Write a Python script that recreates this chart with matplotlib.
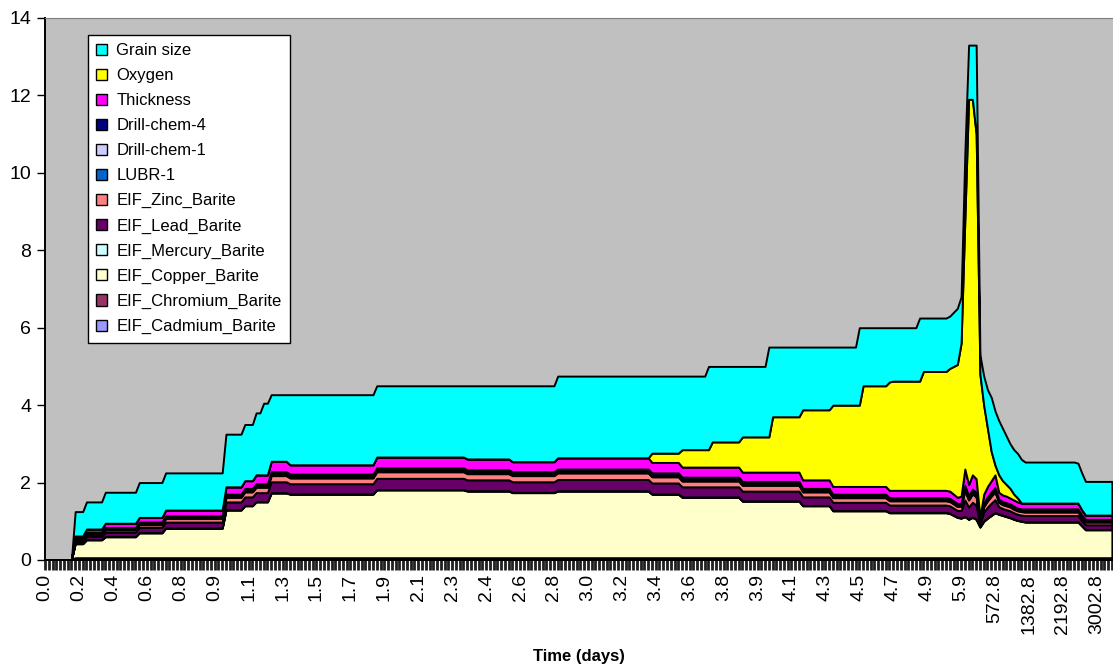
import numpy as np
import matplotlib
matplotlib.use('Agg')
import matplotlib.pyplot as plt
from matplotlib.patches import Patch

plt.rcParams['font.family'] = ['Liberation Sans', 'DejaVu Sans']

# ---------------- data ----------------
tick_labels = ['0.0', '0.2', '0.4', '0.6', '0.8', '0.9', '1.1', '1.3', '1.5', '1.7',
               '1.9', '2.1', '2.3', '2.4', '2.6', '2.8', '3.0', '3.2', '3.4', '3.6',
               '3.8', '3.9', '4.1', '4.3', '4.5', '4.7', '4.9', '5.9', '572.8',
               '1382.8', '2192.8', '3002.8']
n_categories = 284
label_every = 9

# number of consecutive time categories sharing the same values (55 segments)
seg_runs = [8, 3, 5, 9, 7, 16, 5, 3, 2, 2, 5, 23, 24, 12, 12, 25, 8, 7, 1, 8, 7, 1, 8, 8,
            7, 1, 7, 1, 7, 1, 7,
            1, 1, 1, 1, 1, 1, 1, 1, 1, 1, 1, 1, 1, 1, 1, 1, 1, 1, 1, 1,
            14, 1, 1, 8]

cadmium = [0.0] + [0.03] * 54
chromium = [0.0] + [0.03] * 54
copper = [0, .36, .46, .54, .64, .76, 1.23, 1.34, 1.44, 1.44, 1.67, 1.64, 1.75, 1.72, 1.68,
          1.72, 1.64, 1.56, 1.56, 1.56, 1.46, 1.46, 1.46, 1.34, 1.21, 1.21, 1.21, 1.16,
          1.16, 1.16, 1.16, 1.14, 1.09, 1.04, 1.02, 1.06, .99, 1.04, .99, .79, .94, 1.02,
          1.09, 1.16, 1.12, 1.09, 1.06, 1.03, .99, .96, .94, .92, .92, .82, .72]
mercury = [0.0] + [0.01] * 54
lead = [0, .05, .08, .11, .13, .15, .20, .22, .23, .23, .28, .26, .29, .28, .27, .29, .28,
        .26, .26, .26, .25, .25, .25, .22, .21, .21, .21, .19, .19, .19, .19, .19, .18, .17,
        .19, .42, .31, .38, .36, .07, .23, .28, .31, .33, .19, .17, .17, .17, .16, .15, .15,
        .16, .16, .13, .12]
zinc = [0, .03, .05, .06, .07, .09, .12, .13, .14, .14, .16, .15, .17, .16, .16, .17, .16,
        .15, .15, .15, .15, .15, .15, .13, .12, .12, .12, .11, .11, .11, .11, .11, .11, .10,
        .11, .25, .18, .22, .21, .04, .14, .16, .18, .20, .11, .10, .10, .10, .09, .09, .09,
        .09, .09, .08, .07]
lubr1 = [0.0] + [0.02] * 54
drill_chem1 = [0.0] + [0.02] * 54
drill_chem4 = [0, .01, .02, .02, .03, .03, .04, .05, .05, .05, .06, .06, .06, .06, .06, .06,
               .06, .06, .06, .06, .06, .06, .06, .05, .05, .05, .05, .04, .04, .04, .04, .04,
               .04, .04, .04, .09, .07, .08, .08, .02, .05, .06, .07, .07, .04, .04, .04, .04,
               .04, .03, .03, .04, .04, .03, .03]
thickness = [0, .06, .08, .11, .12, .15, .19, .20, .23, .23, .27, .24, .28, .28, .26, .29, .27,
             .26, .26, .26, .24, .24, .24, .22, .20, .20, .20, .19, .19, .19, .19, .19, .17,
             .16, .18, .42, .29, .37, .35, .07, .23, .27, .29, .33, .18, .17, .17, .15, .16,
             .16, .15, .15, .15, .13, .11]
oxygen = [0] * 16 + [.24, .45, .45, .65, .91, .91, 1.43, 1.81, 2.10, 2.10, 2.60, 2.80, 2.82,
                     2.82, 3.07, 3.17, 3.30, 3.43, 3.95, 6.45, 9.95, 9.70, 8.90, 3.70, 2.30,
                     1.50, .75, .25, .45, .37, .30, .25, .15, .10, 0, 0, 0, 0, 0]
grain_size = [0, .63, .70, .80, .90, .96, 1.36, 1.45, 1.60, 1.85, 1.72, 1.81, 1.84, 1.89,
              1.96, 2.11, 1.99, 1.90, 2.15, 1.95, 1.82, 2.32, 1.80, 1.62, 1.50, 2.00, 1.50,
              1.40, 1.38, 1.63, 1.38, 1.35, 1.40, 1.45, 1.20, 1.70, 1.40, 1.40, 2.30, 0.50,
              0.75, 1.00, 1.40, 1.40, 1.40, 1.35, 1.25, 1.15, 1.15, 1.15, 1.13, 1.06, 1.03,
              0.95, 0.87]

series_names = ['EIF_Cadmium_Barite', 'EIF_Chromium_Barite', 'EIF_Copper_Barite',
                'EIF_Mercury_Barite', 'EIF_Lead_Barite', 'EIF_Zinc_Barite', 'LUBR-1',
                'Drill-chem-1', 'Drill-chem-4', 'Thickness', 'Oxygen', 'Grain size']
series_values = [cadmium, chromium, copper, mercury, lead, zinc, lubr1, drill_chem1,
                 drill_chem4, thickness, oxygen, grain_size]
series_colors = ['#9999FF', '#993366', '#FFFFCC', '#CCFFFF', '#660066', '#FF8080',
                 '#0066CC', '#CCCCFF', '#000080', '#FF00FF', '#FFFF00', '#00FFFF']

# ---------------- plot ----------------
fig = plt.figure(figsize=(11.13, 6.68), dpi=100)
ax = fig.add_axes([45 / 1113, 108 / 668, 1068 / 1113, 542 / 668])
ax.set_facecolor('#C0C0C0')

x = np.arange(n_categories)
layers = [np.repeat(np.array(v, dtype=float), seg_runs) for v in series_values]
ax.stackplot(x, *layers, colors=series_colors, edgecolor='black', linewidth=1.4)

ax.set_xlim(0, n_categories - 0.7)
ax.set_ylim(0, 14)
ax.set_yticks(range(0, 15, 2))
ax.tick_params(axis='y', direction='out', length=6, width=1, labelsize=14, pad=4)

major = np.arange(0, n_categories, label_every)[:len(tick_labels)]
ax.set_xticks(major)
ax.set_xticklabels(tick_labels, rotation=90, fontsize=14)
ax.set_xticks(x, minor=True)
ax.tick_params(axis='x', which='both', direction='out', length=7, width=2.0,
               color='#202020', pad=3)

for s in ['left', 'bottom']:
    ax.spines[s].set_color('black')
    ax.spines[s].set_linewidth(1.4)
ax.spines['right'].set_visible(False)
ax.spines['top'].set_color('#808080')

fig.text(579 / 1113, 1 - 657 / 668, 'Time (days)', ha='center', va='center',
         fontsize=12, fontweight='bold')

handles = [Patch(facecolor=c, edgecolor='black', linewidth=1.0) for c in series_colors]
leg = ax.legend(handles[::-1], series_names[::-1], loc='upper left',
                bbox_to_anchor=(43 / 1068, (560 - 35) / 542), borderaxespad=0,
                fontsize=12, frameon=True, fancybox=False, edgecolor='black',
                framealpha=1, handlelength=0.65, handleheight=0.65,
                handletextpad=0.55, labelspacing=0.6, borderpad=0.5)
leg.get_frame().set_linewidth(1.0)

fig.savefig('out.png', dpi=100)
